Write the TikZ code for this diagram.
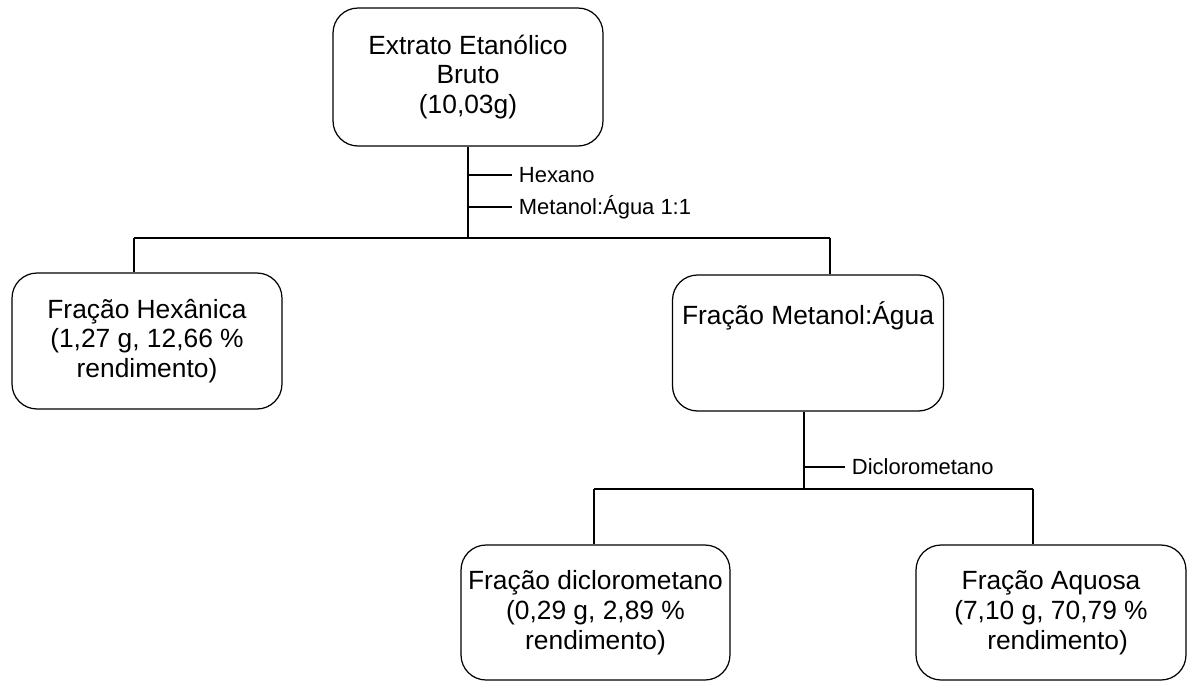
\documentclass[tikz,border=0pt]{standalone}
\usepackage{fontspec}
\setmainfont{Liberation Sans}
\usepackage{tikz}
\tikzset{
  every picture/.style={font={\fontsize{15}{17}\selectfont}, line width=0.9pt}}

\begin{document}
\begin{tikzpicture}[x=0.02cm, y=-0.02cm,
    fracao/.style={
      draw, line width=0.7pt,
      rounded corners=0.5cm,
      align=center, inner sep=0pt,
      minimum width=5.4cm,
      minimum height=2.72cm},
    solvente/.style={anchor=west, inner sep=3.5pt,
      font={\fontsize{12.5}{14}\selectfont}}]

    \useasboundingbox (0,0) rectangle (1190,680);

    % caixas
    \node[fracao, minimum height=2.76cm] (extrato) at (468,77)
    {Extrato Etanólico\\Bruto\\(10,03g)};
    \node[fracao] (hexanica) at (147,341)
    {Fração Hexânica\\(1,27 g, 12,66 \%\\rendimento)};
    \node[fracao, minimum width=5.42cm] (metanol) at (808,343)
    {Fração Metanol:Água\\~\\~};
    \node[fracao, minimum width=5.38cm, minimum height=2.7cm] (dicloro) at (595.5,612.5)
    {Fração diclorometano\\(0,29 g, 2,89 \%\\rendimento)};
    \node[fracao, minimum height=2.7cm] (aquosa) at (1051,612.5)
    {Fração Aquosa\\(7,10 g, 70,79 \%\\\hspace*{0.5em}rendimento)};

    % solventes
    \node[solvente] (hexano) at (512,175) {Hexano};
    \node[solvente] (metagua) at (512,207) {Metanol:Água 1:1};
    \node[solvente] (dclm) at (845,467) {Diclorometano};

    \coordinate (barraE) at (134,238);
    \coordinate (barraD) at (830,238);
    \coordinate (barra2E) at (594,489);
    \coordinate (barra2D) at (1033,489);

    % ligacoes
    \draw (extrato.south) -- (extrato.south |- barraE);
    \draw (barraE) -- (barraD);
    \draw (extrato.south |- hexano.west) -- (hexano.west);
    \draw (extrato.south |- metagua.west) -- (metagua.west);
    \draw (barraE) -- (barraE |- hexanica.north);
    \draw (barraD) -- (barraD |- metanol.north);

    \draw ([xshift=-0.08cm]metanol.south) -- ([xshift=-0.08cm]metanol.south |- barra2E);
    \draw (barra2E) -- (barra2D);
    \draw ([xshift=-0.08cm]metanol.south |- dclm.west) -- (dclm.west);
    \draw (barra2E) -- (barra2E |- dicloro.north);
    \draw (barra2D) -- (barra2D |- aquosa.north);
\end{tikzpicture}
\end{document}
